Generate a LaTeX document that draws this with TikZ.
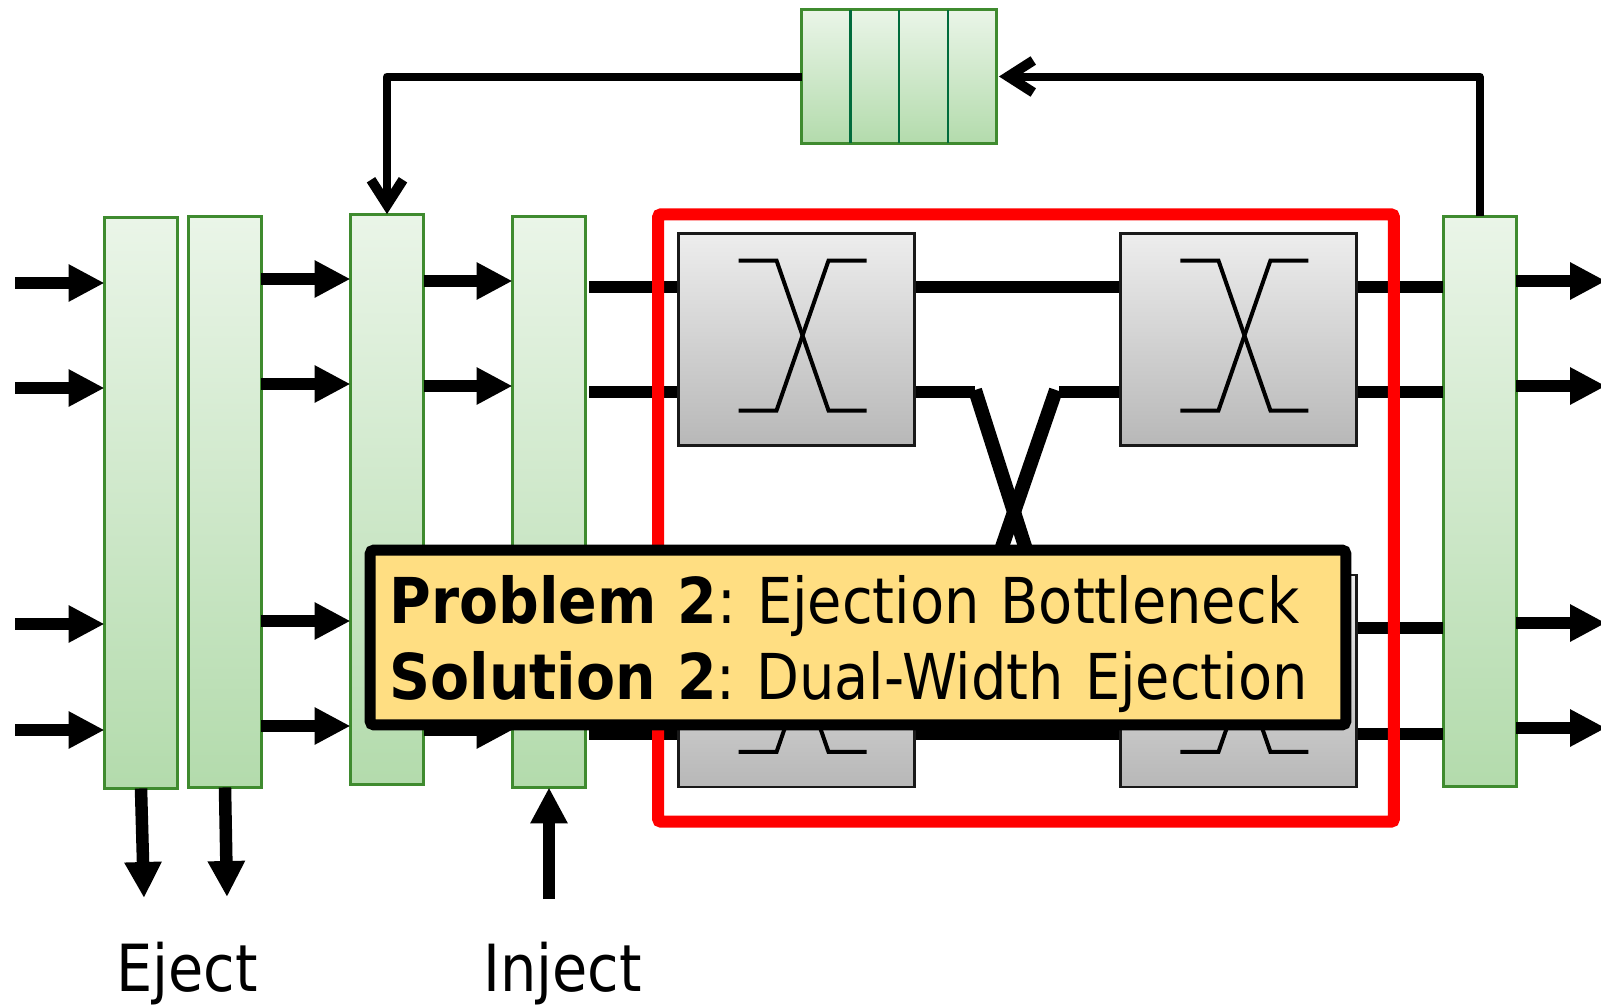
\documentclass[tikz,border=0pt]{standalone}
\usepackage{fontspec}
\setmainfont[FakeStretch=0.98,BoldFeatures={FakeStretch=1.0}]{DejaVu Sans Condensed}
\frenchspacing
\usetikzlibrary{arrows.meta, positioning, calc}
\definecolor{bargreen}{HTML}{3F8B2F}
\definecolor{divgreen}{HTML}{006B3C}
\definecolor{barhi}{HTML}{EAF5E8}
\definecolor{barlo}{HTML}{B3DBAC}
\definecolor{notefill}{HTML}{FFDE82}
\tikzset{
    barbox/.style={
        rectangle,
        draw=bargreen,
        line width=0.06cm,
        top color=barhi,
        bottom color=barlo,
        minimum width=1.46cm,
        minimum height=11.42cm,
        outer sep=0pt
    },
    bufbox/.style={
        rectangle,
        draw=bargreen,
        line width=0.06cm,
        top color=barhi,
        bottom color=barlo,
        minimum width=3.9cm,
        minimum height=2.68cm,
        outer sep=0pt
    },
    bufline/.style={
        draw=divgreen,
        line width=0.05cm
    },
    switchbox/.style={
        rectangle,
        draw=black!90,
        line width=0.05cm,
        top color=black!7,
        bottom color=black!28,
        minimum width=4.72cm,
        minimum height=4.24cm,
        outer sep=0pt
    },
    wire/.style={
        line width=0.25cm
    },
    crosswire/.style={
        line width=0.28cm
    },
    arrow/.style={
        line width=0.25cm,
        -{Triangle[length=0.72cm,width=0.7cm]}
    },
    backarrow/.style={
        line width=0.16cm,
        line join=round,
        -{Straight Barb[length=0.5cm,width=0.64cm,line width=0.2cm]}
    },
    crossline/.style={
        line width=0.08cm
    },
    label/.style={
        font=\fontsize{37}{37}\selectfont,
        anchor=base
    },
    note/.style={
        rectangle,
        draw=black,
        line width=0.22cm,
        rounded corners=0.08cm,
        fill=notefill,
        minimum width=19.52cm,
        minimum height=3.5cm,
        text width=18.74cm,
        align=left,
        font=\fontsize{36}{43.6}\selectfont
    }
}

\begin{document}
\begin{tikzpicture}[x=0.02cm, y=-0.02cm]
    \useasboundingbox (0,0) rectangle (1601,1004);
    \clip (0,0) rectangle (1601,1004);

    % Feedback buffer
    \node[bufbox] (buf) at (899, 76.5) {};
    \draw[bufline] ($(buf.south west)!0.25!(buf.south east)$) -- ($(buf.north west)!0.25!(buf.north east)$);
    \draw[bufline] (buf.south) -- (buf.north);
    \draw[bufline] ($(buf.south west)!0.75!(buf.south east)$) -- ($(buf.north west)!0.75!(buf.north east)$);

    % Bars
    \node[barbox] (bar1) at (141, 503) {};
    \node[barbox, right=0.22cm of bar1, yshift=0.02cm] (bar2) {};
    \node[barbox] (bar3) at (387, 499.5) {};
    \node[barbox] (bar4) at (549, 502) {};
    \node[barbox] (bar5) at (1479.5, 501.5) {};

    % Wires behind the switches
    \coordinate (w1) at (589, 287);
    \coordinate (w2) at (589, 392);
    \coordinate (w3) at (589, 628);
    \coordinate (w4) at (589, 734);
    \coordinate (xl) at (975, 392);
    \coordinate (xr) at (1059, 392);
    \coordinate (xdl) at (972, 634);
    \coordinate (xdr) at (1053, 634);
    \draw[wire] (w1) -- (w1 -| bar5.west);
    \draw[wire] (w4) -- (w4 -| bar5.west);
    \draw[wire] (w2) -- (xl);
    \draw[wire] (xr) -- (w2 -| bar5.west);
    \draw[wire] (w3) -- (xdl |- w3);
    \draw[wire] (xdr |- w3) -- (w3 -| bar5.west);
    \draw[crosswire] ([yshift=0.04cm]xl) -- (xdr);
    \draw[crosswire] ([xshift=-0.06cm,yshift=0.04cm]xr) -- (xdl);

    % Switches
    \node[switchbox] (sw11) at (796.5, 339.5) {};
    \node[switchbox, right=4.12cm of sw11] (sw12) {};
    \node[switchbox, below=2.59cm of sw11] (sw21) {};
    \node[switchbox, right=4.12cm of sw21] (sw22) {};
    \foreach \sw in {sw11, sw12, sw21, sw22} {
        \draw[crossline] ($(\sw.north west)+(60,27)$) -- ($(\sw.north west)+(98,27)$) -- ($(\sw.north west)+(150,177)$) -- ($(\sw.north west)+(188,177)$);
        \draw[crossline] ($(\sw.north west)+(60,177)$) -- ($(\sw.north west)+(98,177)$) -- ($(\sw.north west)+(150,27)$) -- ($(\sw.north west)+(188,27)$);
    }

    % Input arrows
    \foreach \rowy [count=\i] in {283, 388, 624, 730} {
        \coordinate (in\i) at (15, \rowy);
        \draw[arrow] (in\i) -- (in\i -| bar1.west);
    }
    \foreach \rowy [count=\i] in {279, 384, 621, 726} {
        \coordinate (mid\i) at (261, \rowy);
        \draw[arrow] (mid\i -| bar2.east) -- (mid\i -| bar3.west);
    }
    \foreach \rowy [count=\i] in {281, 386, 625, 730} {
        \coordinate (pre\i) at (423, \rowy);
        \draw[arrow] (pre\i -| bar3.east) -- (pre\i -| bar4.west);
    }
    \foreach \rowy [count=\i] in {281, 386, 623, 728} {
        \coordinate (out\i) at (1606, \rowy);
        \draw[arrow] (out\i -| bar5.east) -- (out\i);
    }

    % Eject and inject
    \node[label] (eject) at (187, 991) {Eject};
    \node[label] (inject) at (562.5, 991) {Inject};
    \coordinate (ej1) at (144, 898);
    \coordinate (ej2) at (227, 897);
    \coordinate (inj) at (549, 899);
    \draw[arrow] (bar1.south) -- (ej1);
    \draw[arrow] (bar2.south) -- (ej2);
    \draw[arrow] (inj) -- (inj |- bar4.south);

    % Feedback path
    \coordinate (bendr) at (1479.5, 76.5);
    \coordinate (bendl) at (387, 76.5);
    \draw[backarrow] (bar5.north) -- (bendr) -- ([xshift=0.05cm]buf.east);
    \draw[backarrow] (buf.west) -- (bendl) -- (bar3.north);

    % Red outline
    \node[rectangle, draw=red, line width=0.24cm, rounded corners=0.06cm, minimum width=14.72cm, minimum height=12.15cm, outer sep=0pt] (frame) at (1026, 518) {};

    % Note
    \node[note] (problem) at (858, 637.5) {\rule{0pt}{1.22cm}\textbf{Problem 2}: Ejection Bottleneck\\\textbf{Solution 2}: Dual-Width Ejection};

\end{tikzpicture}
\end{document}
